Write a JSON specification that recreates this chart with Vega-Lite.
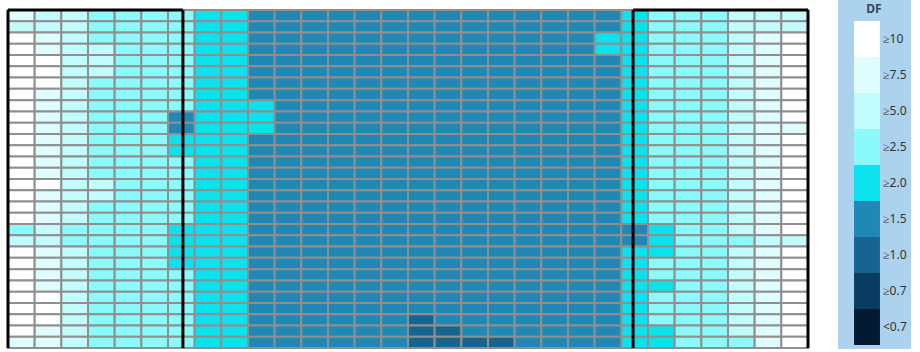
{
"$schema":"https://vega.github.io/schema/vega-lite/v6.json",
"width":800,"height":338,
"autosize":{"type":"none"},
"padding":{"left":8,"top":10,"right":112,"bottom":4},
"background":"white",
"config":{"view":{"stroke":null}},
"layer":[
{"data":{"values":[
{"c":0,"r":0,"DF":"≥7.5"},{"c":1,"r":0,"DF":"≥5.0"},{"c":2,"r":0,"DF":"≥5.0"},{"c":3,"r":0,"DF":"≥2.5"},{"c":4,"r":0,"DF":"≥2.5"},{"c":5,"r":0,"DF":"≥2.5"},{"c":6,"r":0,"DF":"≥2.5"},{"c":7,"r":0,"DF":"≥2.0"},{"c":8,"r":0,"DF":"≥2.0"},{"c":9,"r":0,"DF":"≥1.5"},{"c":10,"r":0,"DF":"≥1.5"},{"c":11,"r":0,"DF":"≥1.5"},{"c":12,"r":0,"DF":"≥1.5"},{"c":13,"r":0,"DF":"≥1.5"},{"c":14,"r":0,"DF":"≥1.5"},{"c":15,"r":0,"DF":"≥1.5"},{"c":16,"r":0,"DF":"≥1.5"},{"c":17,"r":0,"DF":"≥1.5"},{"c":18,"r":0,"DF":"≥1.5"},{"c":19,"r":0,"DF":"≥1.5"},{"c":20,"r":0,"DF":"≥1.5"},{"c":21,"r":0,"DF":"≥1.5"},{"c":22,"r":0,"DF":"≥1.5"},{"c":23,"r":0,"DF":"≥2.0"},{"c":24,"r":0,"DF":"≥2.5"},{"c":25,"r":0,"DF":"≥2.5"},{"c":26,"r":0,"DF":"≥2.5"},{"c":27,"r":0,"DF":"≥5.0"},{"c":28,"r":0,"DF":"≥5.0"},{"c":29,"r":0,"DF":"≥5.0"},
{"c":0,"r":1,"DF":"≥5.0"},{"c":1,"r":1,"DF":"≥5.0"},{"c":2,"r":1,"DF":"≥5.0"},{"c":3,"r":1,"DF":"≥2.5"},{"c":4,"r":1,"DF":"≥2.5"},{"c":5,"r":1,"DF":"≥2.5"},{"c":6,"r":1,"DF":"≥2.5"},{"c":7,"r":1,"DF":"≥2.0"},{"c":8,"r":1,"DF":"≥2.0"},{"c":9,"r":1,"DF":"≥1.5"},{"c":10,"r":1,"DF":"≥1.5"},{"c":11,"r":1,"DF":"≥1.5"},{"c":12,"r":1,"DF":"≥1.5"},{"c":13,"r":1,"DF":"≥1.5"},{"c":14,"r":1,"DF":"≥1.5"},{"c":15,"r":1,"DF":"≥1.5"},{"c":16,"r":1,"DF":"≥1.5"},{"c":17,"r":1,"DF":"≥1.5"},{"c":18,"r":1,"DF":"≥1.5"},{"c":19,"r":1,"DF":"≥1.5"},{"c":20,"r":1,"DF":"≥1.5"},{"c":21,"r":1,"DF":"≥1.5"},{"c":22,"r":1,"DF":"≥1.5"},{"c":23,"r":1,"DF":"≥2.0"},{"c":24,"r":1,"DF":"≥2.5"},{"c":25,"r":1,"DF":"≥2.5"},{"c":26,"r":1,"DF":"≥2.5"},{"c":27,"r":1,"DF":"≥5.0"},{"c":28,"r":1,"DF":"≥5.0"},{"c":29,"r":1,"DF":"≥5.0"},
{"c":0,"r":2,"DF":"≥10"},{"c":1,"r":2,"DF":"≥7.5"},{"c":2,"r":2,"DF":"≥5.0"},{"c":3,"r":2,"DF":"≥2.5"},{"c":4,"r":2,"DF":"≥2.5"},{"c":5,"r":2,"DF":"≥2.5"},{"c":6,"r":2,"DF":"≥2.5"},{"c":7,"r":2,"DF":"≥2.0"},{"c":8,"r":2,"DF":"≥2.0"},{"c":9,"r":2,"DF":"≥1.5"},{"c":10,"r":2,"DF":"≥1.5"},{"c":11,"r":2,"DF":"≥1.5"},{"c":12,"r":2,"DF":"≥1.5"},{"c":13,"r":2,"DF":"≥1.5"},{"c":14,"r":2,"DF":"≥1.5"},{"c":15,"r":2,"DF":"≥1.5"},{"c":16,"r":2,"DF":"≥1.5"},{"c":17,"r":2,"DF":"≥1.5"},{"c":18,"r":2,"DF":"≥1.5"},{"c":19,"r":2,"DF":"≥1.5"},{"c":20,"r":2,"DF":"≥1.5"},{"c":21,"r":2,"DF":"≥1.5"},{"c":22,"r":2,"DF":"≥2.0"},{"c":23,"r":2,"DF":"≥2.0"},{"c":24,"r":2,"DF":"≥2.5"},{"c":25,"r":2,"DF":"≥2.5"},{"c":26,"r":2,"DF":"≥2.5"},{"c":27,"r":2,"DF":"≥5.0"},{"c":28,"r":2,"DF":"≥7.5"},{"c":29,"r":2,"DF":"≥10"},
{"c":0,"r":3,"DF":"≥10"},{"c":1,"r":3,"DF":"≥7.5"},{"c":2,"r":3,"DF":"≥5.0"},{"c":3,"r":3,"DF":"≥5.0"},{"c":4,"r":3,"DF":"≥2.5"},{"c":5,"r":3,"DF":"≥2.5"},{"c":6,"r":3,"DF":"≥2.5"},{"c":7,"r":3,"DF":"≥2.0"},{"c":8,"r":3,"DF":"≥2.0"},{"c":9,"r":3,"DF":"≥1.5"},{"c":10,"r":3,"DF":"≥1.5"},{"c":11,"r":3,"DF":"≥1.5"},{"c":12,"r":3,"DF":"≥1.5"},{"c":13,"r":3,"DF":"≥1.5"},{"c":14,"r":3,"DF":"≥1.5"},{"c":15,"r":3,"DF":"≥1.5"},{"c":16,"r":3,"DF":"≥1.5"},{"c":17,"r":3,"DF":"≥1.5"},{"c":18,"r":3,"DF":"≥1.5"},{"c":19,"r":3,"DF":"≥1.5"},{"c":20,"r":3,"DF":"≥1.5"},{"c":21,"r":3,"DF":"≥1.5"},{"c":22,"r":3,"DF":"≥2.0"},{"c":23,"r":3,"DF":"≥2.0"},{"c":24,"r":3,"DF":"≥2.5"},{"c":25,"r":3,"DF":"≥2.5"},{"c":26,"r":3,"DF":"≥2.5"},{"c":27,"r":3,"DF":"≥5.0"},{"c":28,"r":3,"DF":"≥7.5"},{"c":29,"r":3,"DF":"≥10"},
{"c":0,"r":4,"DF":"≥10"},{"c":1,"r":4,"DF":"≥10"},{"c":2,"r":4,"DF":"≥5.0"},{"c":3,"r":4,"DF":"≥5.0"},{"c":4,"r":4,"DF":"≥2.5"},{"c":5,"r":4,"DF":"≥2.5"},{"c":6,"r":4,"DF":"≥2.5"},{"c":7,"r":4,"DF":"≥2.0"},{"c":8,"r":4,"DF":"≥2.0"},{"c":9,"r":4,"DF":"≥1.5"},{"c":10,"r":4,"DF":"≥1.5"},{"c":11,"r":4,"DF":"≥1.5"},{"c":12,"r":4,"DF":"≥1.5"},{"c":13,"r":4,"DF":"≥1.5"},{"c":14,"r":4,"DF":"≥1.5"},{"c":15,"r":4,"DF":"≥1.5"},{"c":16,"r":4,"DF":"≥1.5"},{"c":17,"r":4,"DF":"≥1.5"},{"c":18,"r":4,"DF":"≥1.5"},{"c":19,"r":4,"DF":"≥1.5"},{"c":20,"r":4,"DF":"≥1.5"},{"c":21,"r":4,"DF":"≥1.5"},{"c":22,"r":4,"DF":"≥1.5"},{"c":23,"r":4,"DF":"≥2.0"},{"c":24,"r":4,"DF":"≥2.5"},{"c":25,"r":4,"DF":"≥2.5"},{"c":26,"r":4,"DF":"≥2.5"},{"c":27,"r":4,"DF":"≥5.0"},{"c":28,"r":4,"DF":"≥7.5"},{"c":29,"r":4,"DF":"≥10"},
{"c":0,"r":5,"DF":"≥10"},{"c":1,"r":5,"DF":"≥10"},{"c":2,"r":5,"DF":"≥5.0"},{"c":3,"r":5,"DF":"≥5.0"},{"c":4,"r":5,"DF":"≥2.5"},{"c":5,"r":5,"DF":"≥2.5"},{"c":6,"r":5,"DF":"≥2.5"},{"c":7,"r":5,"DF":"≥2.0"},{"c":8,"r":5,"DF":"≥2.0"},{"c":9,"r":5,"DF":"≥1.5"},{"c":10,"r":5,"DF":"≥1.5"},{"c":11,"r":5,"DF":"≥1.5"},{"c":12,"r":5,"DF":"≥1.5"},{"c":13,"r":5,"DF":"≥1.5"},{"c":14,"r":5,"DF":"≥1.5"},{"c":15,"r":5,"DF":"≥1.5"},{"c":16,"r":5,"DF":"≥1.5"},{"c":17,"r":5,"DF":"≥1.5"},{"c":18,"r":5,"DF":"≥1.5"},{"c":19,"r":5,"DF":"≥1.5"},{"c":20,"r":5,"DF":"≥1.5"},{"c":21,"r":5,"DF":"≥1.5"},{"c":22,"r":5,"DF":"≥1.5"},{"c":23,"r":5,"DF":"≥2.0"},{"c":24,"r":5,"DF":"≥2.5"},{"c":25,"r":5,"DF":"≥2.5"},{"c":26,"r":5,"DF":"≥2.5"},{"c":27,"r":5,"DF":"≥5.0"},{"c":28,"r":5,"DF":"≥7.5"},{"c":29,"r":5,"DF":"≥10"},
{"c":0,"r":6,"DF":"≥10"},{"c":1,"r":6,"DF":"≥10"},{"c":2,"r":6,"DF":"≥5.0"},{"c":3,"r":6,"DF":"≥2.5"},{"c":4,"r":6,"DF":"≥2.5"},{"c":5,"r":6,"DF":"≥2.5"},{"c":6,"r":6,"DF":"≥2.5"},{"c":7,"r":6,"DF":"≥2.0"},{"c":8,"r":6,"DF":"≥2.0"},{"c":9,"r":6,"DF":"≥1.5"},{"c":10,"r":6,"DF":"≥1.5"},{"c":11,"r":6,"DF":"≥1.5"},{"c":12,"r":6,"DF":"≥1.5"},{"c":13,"r":6,"DF":"≥1.5"},{"c":14,"r":6,"DF":"≥1.5"},{"c":15,"r":6,"DF":"≥1.5"},{"c":16,"r":6,"DF":"≥1.5"},{"c":17,"r":6,"DF":"≥1.5"},{"c":18,"r":6,"DF":"≥1.5"},{"c":19,"r":6,"DF":"≥1.5"},{"c":20,"r":6,"DF":"≥1.5"},{"c":21,"r":6,"DF":"≥1.5"},{"c":22,"r":6,"DF":"≥1.5"},{"c":23,"r":6,"DF":"≥2.0"},{"c":24,"r":6,"DF":"≥2.5"},{"c":25,"r":6,"DF":"≥2.5"},{"c":26,"r":6,"DF":"≥2.5"},{"c":27,"r":6,"DF":"≥5.0"},{"c":28,"r":6,"DF":"≥7.5"},{"c":29,"r":6,"DF":"≥10"},
{"c":0,"r":7,"DF":"≥10"},{"c":1,"r":7,"DF":"≥7.5"},{"c":2,"r":7,"DF":"≥5.0"},{"c":3,"r":7,"DF":"≥2.5"},{"c":4,"r":7,"DF":"≥2.5"},{"c":5,"r":7,"DF":"≥2.5"},{"c":6,"r":7,"DF":"≥2.5"},{"c":7,"r":7,"DF":"≥2.0"},{"c":8,"r":7,"DF":"≥2.0"},{"c":9,"r":7,"DF":"≥1.5"},{"c":10,"r":7,"DF":"≥1.5"},{"c":11,"r":7,"DF":"≥1.5"},{"c":12,"r":7,"DF":"≥1.5"},{"c":13,"r":7,"DF":"≥1.5"},{"c":14,"r":7,"DF":"≥1.5"},{"c":15,"r":7,"DF":"≥1.5"},{"c":16,"r":7,"DF":"≥1.5"},{"c":17,"r":7,"DF":"≥1.5"},{"c":18,"r":7,"DF":"≥1.5"},{"c":19,"r":7,"DF":"≥1.5"},{"c":20,"r":7,"DF":"≥1.5"},{"c":21,"r":7,"DF":"≥1.5"},{"c":22,"r":7,"DF":"≥1.5"},{"c":23,"r":7,"DF":"≥2.0"},{"c":24,"r":7,"DF":"≥2.5"},{"c":25,"r":7,"DF":"≥2.5"},{"c":26,"r":7,"DF":"≥2.5"},{"c":27,"r":7,"DF":"≥5.0"},{"c":28,"r":7,"DF":"≥7.5"},{"c":29,"r":7,"DF":"≥10"},
{"c":0,"r":8,"DF":"≥10"},{"c":1,"r":8,"DF":"≥7.5"},{"c":2,"r":8,"DF":"≥5.0"},{"c":3,"r":8,"DF":"≥2.5"},{"c":4,"r":8,"DF":"≥2.5"},{"c":5,"r":8,"DF":"≥2.5"},{"c":6,"r":8,"DF":"≥2.5"},{"c":7,"r":8,"DF":"≥2.0"},{"c":8,"r":8,"DF":"≥2.0"},{"c":9,"r":8,"DF":"≥2.0"},{"c":10,"r":8,"DF":"≥1.5"},{"c":11,"r":8,"DF":"≥1.5"},{"c":12,"r":8,"DF":"≥1.5"},{"c":13,"r":8,"DF":"≥1.5"},{"c":14,"r":8,"DF":"≥1.5"},{"c":15,"r":8,"DF":"≥1.5"},{"c":16,"r":8,"DF":"≥1.5"},{"c":17,"r":8,"DF":"≥1.5"},{"c":18,"r":8,"DF":"≥1.5"},{"c":19,"r":8,"DF":"≥1.5"},{"c":20,"r":8,"DF":"≥1.5"},{"c":21,"r":8,"DF":"≥1.5"},{"c":22,"r":8,"DF":"≥1.5"},{"c":23,"r":8,"DF":"≥2.0"},{"c":24,"r":8,"DF":"≥2.5"},{"c":25,"r":8,"DF":"≥2.5"},{"c":26,"r":8,"DF":"≥2.5"},{"c":27,"r":8,"DF":"≥5.0"},{"c":28,"r":8,"DF":"≥7.5"},{"c":29,"r":8,"DF":"≥10"},
{"c":0,"r":9,"DF":"≥10"},{"c":1,"r":9,"DF":"≥7.5"},{"c":2,"r":9,"DF":"≥5.0"},{"c":3,"r":9,"DF":"≥2.5"},{"c":4,"r":9,"DF":"≥2.5"},{"c":5,"r":9,"DF":"≥2.5"},{"c":6,"r":9,"DF":"≥1.5"},{"c":7,"r":9,"DF":"≥2.0"},{"c":8,"r":9,"DF":"≥2.0"},{"c":9,"r":9,"DF":"≥2.0"},{"c":10,"r":9,"DF":"≥1.5"},{"c":11,"r":9,"DF":"≥1.5"},{"c":12,"r":9,"DF":"≥1.5"},{"c":13,"r":9,"DF":"≥1.5"},{"c":14,"r":9,"DF":"≥1.5"},{"c":15,"r":9,"DF":"≥1.5"},{"c":16,"r":9,"DF":"≥1.5"},{"c":17,"r":9,"DF":"≥1.5"},{"c":18,"r":9,"DF":"≥1.5"},{"c":19,"r":9,"DF":"≥1.5"},{"c":20,"r":9,"DF":"≥1.5"},{"c":21,"r":9,"DF":"≥1.5"},{"c":22,"r":9,"DF":"≥1.5"},{"c":23,"r":9,"DF":"≥2.0"},{"c":24,"r":9,"DF":"≥2.5"},{"c":25,"r":9,"DF":"≥2.5"},{"c":26,"r":9,"DF":"≥2.5"},{"c":27,"r":9,"DF":"≥5.0"},{"c":28,"r":9,"DF":"≥7.5"},{"c":29,"r":9,"DF":"≥10"},
{"c":0,"r":10,"DF":"≥10"},{"c":1,"r":10,"DF":"≥7.5"},{"c":2,"r":10,"DF":"≥5.0"},{"c":3,"r":10,"DF":"≥2.5"},{"c":4,"r":10,"DF":"≥2.5"},{"c":5,"r":10,"DF":"≥2.5"},{"c":6,"r":10,"DF":"≥1.5"},{"c":7,"r":10,"DF":"≥2.0"},{"c":8,"r":10,"DF":"≥2.0"},{"c":9,"r":10,"DF":"≥2.0"},{"c":10,"r":10,"DF":"≥1.5"},{"c":11,"r":10,"DF":"≥1.5"},{"c":12,"r":10,"DF":"≥1.5"},{"c":13,"r":10,"DF":"≥1.5"},{"c":14,"r":10,"DF":"≥1.5"},{"c":15,"r":10,"DF":"≥1.5"},{"c":16,"r":10,"DF":"≥1.5"},{"c":17,"r":10,"DF":"≥1.5"},{"c":18,"r":10,"DF":"≥1.5"},{"c":19,"r":10,"DF":"≥1.5"},{"c":20,"r":10,"DF":"≥1.5"},{"c":21,"r":10,"DF":"≥1.5"},{"c":22,"r":10,"DF":"≥1.5"},{"c":23,"r":10,"DF":"≥2.0"},{"c":24,"r":10,"DF":"≥2.5"},{"c":25,"r":10,"DF":"≥2.5"},{"c":26,"r":10,"DF":"≥2.5"},{"c":27,"r":10,"DF":"≥5.0"},{"c":28,"r":10,"DF":"≥7.5"},{"c":29,"r":10,"DF":"≥7.5"},
{"c":0,"r":11,"DF":"≥10"},{"c":1,"r":11,"DF":"≥7.5"},{"c":2,"r":11,"DF":"≥5.0"},{"c":3,"r":11,"DF":"≥2.5"},{"c":4,"r":11,"DF":"≥2.5"},{"c":5,"r":11,"DF":"≥2.5"},{"c":6,"r":11,"DF":"≥2.0"},{"c":7,"r":11,"DF":"≥2.0"},{"c":8,"r":11,"DF":"≥2.0"},{"c":9,"r":11,"DF":"≥1.5"},{"c":10,"r":11,"DF":"≥1.5"},{"c":11,"r":11,"DF":"≥1.5"},{"c":12,"r":11,"DF":"≥1.5"},{"c":13,"r":11,"DF":"≥1.5"},{"c":14,"r":11,"DF":"≥1.5"},{"c":15,"r":11,"DF":"≥1.5"},{"c":16,"r":11,"DF":"≥1.5"},{"c":17,"r":11,"DF":"≥1.5"},{"c":18,"r":11,"DF":"≥1.5"},{"c":19,"r":11,"DF":"≥1.5"},{"c":20,"r":11,"DF":"≥1.5"},{"c":21,"r":11,"DF":"≥1.5"},{"c":22,"r":11,"DF":"≥1.5"},{"c":23,"r":11,"DF":"≥2.0"},{"c":24,"r":11,"DF":"≥2.5"},{"c":25,"r":11,"DF":"≥2.5"},{"c":26,"r":11,"DF":"≥2.5"},{"c":27,"r":11,"DF":"≥5.0"},{"c":28,"r":11,"DF":"≥7.5"},{"c":29,"r":11,"DF":"≥10"},
{"c":0,"r":12,"DF":"≥10"},{"c":1,"r":12,"DF":"≥7.5"},{"c":2,"r":12,"DF":"≥5.0"},{"c":3,"r":12,"DF":"≥2.5"},{"c":4,"r":12,"DF":"≥2.5"},{"c":5,"r":12,"DF":"≥2.5"},{"c":6,"r":12,"DF":"≥2.0"},{"c":7,"r":12,"DF":"≥2.0"},{"c":8,"r":12,"DF":"≥2.0"},{"c":9,"r":12,"DF":"≥1.5"},{"c":10,"r":12,"DF":"≥1.5"},{"c":11,"r":12,"DF":"≥1.5"},{"c":12,"r":12,"DF":"≥1.5"},{"c":13,"r":12,"DF":"≥1.5"},{"c":14,"r":12,"DF":"≥1.5"},{"c":15,"r":12,"DF":"≥1.5"},{"c":16,"r":12,"DF":"≥1.5"},{"c":17,"r":12,"DF":"≥1.5"},{"c":18,"r":12,"DF":"≥1.5"},{"c":19,"r":12,"DF":"≥1.5"},{"c":20,"r":12,"DF":"≥1.5"},{"c":21,"r":12,"DF":"≥1.5"},{"c":22,"r":12,"DF":"≥1.5"},{"c":23,"r":12,"DF":"≥2.0"},{"c":24,"r":12,"DF":"≥2.5"},{"c":25,"r":12,"DF":"≥2.5"},{"c":26,"r":12,"DF":"≥2.5"},{"c":27,"r":12,"DF":"≥5.0"},{"c":28,"r":12,"DF":"≥7.5"},{"c":29,"r":12,"DF":"≥10"},
{"c":0,"r":13,"DF":"≥10"},{"c":1,"r":13,"DF":"≥7.5"},{"c":2,"r":13,"DF":"≥5.0"},{"c":3,"r":13,"DF":"≥2.5"},{"c":4,"r":13,"DF":"≥2.5"},{"c":5,"r":13,"DF":"≥2.5"},{"c":6,"r":13,"DF":"≥2.5"},{"c":7,"r":13,"DF":"≥2.0"},{"c":8,"r":13,"DF":"≥2.0"},{"c":9,"r":13,"DF":"≥1.5"},{"c":10,"r":13,"DF":"≥1.5"},{"c":11,"r":13,"DF":"≥1.5"},{"c":12,"r":13,"DF":"≥1.5"},{"c":13,"r":13,"DF":"≥1.5"},{"c":14,"r":13,"DF":"≥1.5"},{"c":15,"r":13,"DF":"≥1.5"},{"c":16,"r":13,"DF":"≥1.5"},{"c":17,"r":13,"DF":"≥1.5"},{"c":18,"r":13,"DF":"≥1.5"},{"c":19,"r":13,"DF":"≥1.5"},{"c":20,"r":13,"DF":"≥1.5"},{"c":21,"r":13,"DF":"≥1.5"},{"c":22,"r":13,"DF":"≥1.5"},{"c":23,"r":13,"DF":"≥2.0"},{"c":24,"r":13,"DF":"≥2.5"},{"c":25,"r":13,"DF":"≥2.5"},{"c":26,"r":13,"DF":"≥2.5"},{"c":27,"r":13,"DF":"≥5.0"},{"c":28,"r":13,"DF":"≥7.5"},{"c":29,"r":13,"DF":"≥10"},
{"c":0,"r":14,"DF":"≥10"},{"c":1,"r":14,"DF":"≥7.5"},{"c":2,"r":14,"DF":"≥5.0"},{"c":3,"r":14,"DF":"≥2.5"},{"c":4,"r":14,"DF":"≥2.5"},{"c":5,"r":14,"DF":"≥2.5"},{"c":6,"r":14,"DF":"≥2.5"},{"c":7,"r":14,"DF":"≥2.0"},{"c":8,"r":14,"DF":"≥2.0"},{"c":9,"r":14,"DF":"≥1.5"},{"c":10,"r":14,"DF":"≥1.5"},{"c":11,"r":14,"DF":"≥1.5"},{"c":12,"r":14,"DF":"≥1.5"},{"c":13,"r":14,"DF":"≥1.5"},{"c":14,"r":14,"DF":"≥1.5"},{"c":15,"r":14,"DF":"≥1.5"},{"c":16,"r":14,"DF":"≥1.5"},{"c":17,"r":14,"DF":"≥1.5"},{"c":18,"r":14,"DF":"≥1.5"},{"c":19,"r":14,"DF":"≥1.5"},{"c":20,"r":14,"DF":"≥1.5"},{"c":21,"r":14,"DF":"≥1.5"},{"c":22,"r":14,"DF":"≥1.5"},{"c":23,"r":14,"DF":"≥2.0"},{"c":24,"r":14,"DF":"≥2.5"},{"c":25,"r":14,"DF":"≥2.5"},{"c":26,"r":14,"DF":"≥2.5"},{"c":27,"r":14,"DF":"≥5.0"},{"c":28,"r":14,"DF":"≥7.5"},{"c":29,"r":14,"DF":"≥10"},
{"c":0,"r":15,"DF":"≥10"},{"c":1,"r":15,"DF":"≥10"},{"c":2,"r":15,"DF":"≥5.0"},{"c":3,"r":15,"DF":"≥5.0"},{"c":4,"r":15,"DF":"≥2.5"},{"c":5,"r":15,"DF":"≥2.5"},{"c":6,"r":15,"DF":"≥2.5"},{"c":7,"r":15,"DF":"≥2.0"},{"c":8,"r":15,"DF":"≥2.0"},{"c":9,"r":15,"DF":"≥1.5"},{"c":10,"r":15,"DF":"≥1.5"},{"c":11,"r":15,"DF":"≥1.5"},{"c":12,"r":15,"DF":"≥1.5"},{"c":13,"r":15,"DF":"≥1.5"},{"c":14,"r":15,"DF":"≥1.5"},{"c":15,"r":15,"DF":"≥1.5"},{"c":16,"r":15,"DF":"≥1.5"},{"c":17,"r":15,"DF":"≥1.5"},{"c":18,"r":15,"DF":"≥1.5"},{"c":19,"r":15,"DF":"≥1.5"},{"c":20,"r":15,"DF":"≥1.5"},{"c":21,"r":15,"DF":"≥1.5"},{"c":22,"r":15,"DF":"≥1.5"},{"c":23,"r":15,"DF":"≥2.0"},{"c":24,"r":15,"DF":"≥2.5"},{"c":25,"r":15,"DF":"≥2.5"},{"c":26,"r":15,"DF":"≥2.5"},{"c":27,"r":15,"DF":"≥5.0"},{"c":28,"r":15,"DF":"≥7.5"},{"c":29,"r":15,"DF":"≥10"},
{"c":0,"r":16,"DF":"≥10"},{"c":1,"r":16,"DF":"≥7.5"},{"c":2,"r":16,"DF":"≥5.0"},{"c":3,"r":16,"DF":"≥5.0"},{"c":4,"r":16,"DF":"≥2.5"},{"c":5,"r":16,"DF":"≥2.5"},{"c":6,"r":16,"DF":"≥2.5"},{"c":7,"r":16,"DF":"≥2.0"},{"c":8,"r":16,"DF":"≥2.0"},{"c":9,"r":16,"DF":"≥1.5"},{"c":10,"r":16,"DF":"≥1.5"},{"c":11,"r":16,"DF":"≥1.5"},{"c":12,"r":16,"DF":"≥1.5"},{"c":13,"r":16,"DF":"≥1.5"},{"c":14,"r":16,"DF":"≥1.5"},{"c":15,"r":16,"DF":"≥1.5"},{"c":16,"r":16,"DF":"≥1.5"},{"c":17,"r":16,"DF":"≥1.5"},{"c":18,"r":16,"DF":"≥1.5"},{"c":19,"r":16,"DF":"≥1.5"},{"c":20,"r":16,"DF":"≥1.5"},{"c":21,"r":16,"DF":"≥1.5"},{"c":22,"r":16,"DF":"≥1.5"},{"c":23,"r":16,"DF":"≥2.0"},{"c":24,"r":16,"DF":"≥2.5"},{"c":25,"r":16,"DF":"≥2.5"},{"c":26,"r":16,"DF":"≥2.5"},{"c":27,"r":16,"DF":"≥5.0"},{"c":28,"r":16,"DF":"≥7.5"},{"c":29,"r":16,"DF":"≥10"},
{"c":0,"r":17,"DF":"≥10"},{"c":1,"r":17,"DF":"≥7.5"},{"c":2,"r":17,"DF":"≥5.0"},{"c":3,"r":17,"DF":"≥2.5"},{"c":4,"r":17,"DF":"≥2.5"},{"c":5,"r":17,"DF":"≥2.5"},{"c":6,"r":17,"DF":"≥2.5"},{"c":7,"r":17,"DF":"≥2.0"},{"c":8,"r":17,"DF":"≥2.0"},{"c":9,"r":17,"DF":"≥1.5"},{"c":10,"r":17,"DF":"≥1.5"},{"c":11,"r":17,"DF":"≥1.5"},{"c":12,"r":17,"DF":"≥1.5"},{"c":13,"r":17,"DF":"≥1.5"},{"c":14,"r":17,"DF":"≥1.5"},{"c":15,"r":17,"DF":"≥1.5"},{"c":16,"r":17,"DF":"≥1.5"},{"c":17,"r":17,"DF":"≥1.5"},{"c":18,"r":17,"DF":"≥1.5"},{"c":19,"r":17,"DF":"≥1.5"},{"c":20,"r":17,"DF":"≥1.5"},{"c":21,"r":17,"DF":"≥1.5"},{"c":22,"r":17,"DF":"≥1.5"},{"c":23,"r":17,"DF":"≥2.0"},{"c":24,"r":17,"DF":"≥2.5"},{"c":25,"r":17,"DF":"≥2.5"},{"c":26,"r":17,"DF":"≥2.5"},{"c":27,"r":17,"DF":"≥5.0"},{"c":28,"r":17,"DF":"≥7.5"},{"c":29,"r":17,"DF":"≥10"},
{"c":0,"r":18,"DF":"≥10"},{"c":1,"r":18,"DF":"≥7.5"},{"c":2,"r":18,"DF":"≥5.0"},{"c":3,"r":18,"DF":"≥2.5"},{"c":4,"r":18,"DF":"≥2.5"},{"c":5,"r":18,"DF":"≥2.5"},{"c":6,"r":18,"DF":"≥2.5"},{"c":7,"r":18,"DF":"≥2.0"},{"c":8,"r":18,"DF":"≥2.0"},{"c":9,"r":18,"DF":"≥1.5"},{"c":10,"r":18,"DF":"≥1.5"},{"c":11,"r":18,"DF":"≥1.5"},{"c":12,"r":18,"DF":"≥1.5"},{"c":13,"r":18,"DF":"≥1.5"},{"c":14,"r":18,"DF":"≥1.5"},{"c":15,"r":18,"DF":"≥1.5"},{"c":16,"r":18,"DF":"≥1.5"},{"c":17,"r":18,"DF":"≥1.5"},{"c":18,"r":18,"DF":"≥1.5"},{"c":19,"r":18,"DF":"≥1.5"},{"c":20,"r":18,"DF":"≥1.5"},{"c":21,"r":18,"DF":"≥1.5"},{"c":22,"r":18,"DF":"≥1.5"},{"c":23,"r":18,"DF":"≥2.0"},{"c":24,"r":18,"DF":"≥2.5"},{"c":25,"r":18,"DF":"≥2.5"},{"c":26,"r":18,"DF":"≥2.5"},{"c":27,"r":18,"DF":"≥5.0"},{"c":28,"r":18,"DF":"≥7.5"},{"c":29,"r":18,"DF":"≥10"},
{"c":0,"r":19,"DF":"≥2.5"},{"c":1,"r":19,"DF":"≥5.0"},{"c":2,"r":19,"DF":"≥2.5"},{"c":3,"r":19,"DF":"≥2.5"},{"c":4,"r":19,"DF":"≥2.5"},{"c":5,"r":19,"DF":"≥2.5"},{"c":6,"r":19,"DF":"≥2.0"},{"c":7,"r":19,"DF":"≥2.0"},{"c":8,"r":19,"DF":"≥2.0"},{"c":9,"r":19,"DF":"≥1.5"},{"c":10,"r":19,"DF":"≥1.5"},{"c":11,"r":19,"DF":"≥1.5"},{"c":12,"r":19,"DF":"≥1.5"},{"c":13,"r":19,"DF":"≥1.5"},{"c":14,"r":19,"DF":"≥1.5"},{"c":15,"r":19,"DF":"≥1.5"},{"c":16,"r":19,"DF":"≥1.5"},{"c":17,"r":19,"DF":"≥1.5"},{"c":18,"r":19,"DF":"≥1.5"},{"c":19,"r":19,"DF":"≥1.5"},{"c":20,"r":19,"DF":"≥1.5"},{"c":21,"r":19,"DF":"≥1.5"},{"c":22,"r":19,"DF":"≥1.5"},{"c":23,"r":19,"DF":"≥1.5"},{"c":24,"r":19,"DF":"≥2.0"},{"c":25,"r":19,"DF":"≥2.5"},{"c":26,"r":19,"DF":"≥2.5"},{"c":27,"r":19,"DF":"≥5.0"},{"c":28,"r":19,"DF":"≥7.5"},{"c":29,"r":19,"DF":"≥10"},
{"c":0,"r":20,"DF":"≥5.0"},{"c":1,"r":20,"DF":"≥5.0"},{"c":2,"r":20,"DF":"≥2.5"},{"c":3,"r":20,"DF":"≥2.5"},{"c":4,"r":20,"DF":"≥2.5"},{"c":5,"r":20,"DF":"≥2.5"},{"c":6,"r":20,"DF":"≥2.0"},{"c":7,"r":20,"DF":"≥2.0"},{"c":8,"r":20,"DF":"≥2.0"},{"c":9,"r":20,"DF":"≥1.5"},{"c":10,"r":20,"DF":"≥1.5"},{"c":11,"r":20,"DF":"≥1.5"},{"c":12,"r":20,"DF":"≥1.5"},{"c":13,"r":20,"DF":"≥1.5"},{"c":14,"r":20,"DF":"≥1.5"},{"c":15,"r":20,"DF":"≥1.5"},{"c":16,"r":20,"DF":"≥1.5"},{"c":17,"r":20,"DF":"≥1.5"},{"c":18,"r":20,"DF":"≥1.5"},{"c":19,"r":20,"DF":"≥1.5"},{"c":20,"r":20,"DF":"≥1.5"},{"c":21,"r":20,"DF":"≥1.5"},{"c":22,"r":20,"DF":"≥1.5"},{"c":23,"r":20,"DF":"≥1.5"},{"c":24,"r":20,"DF":"≥2.0"},{"c":25,"r":20,"DF":"≥2.5"},{"c":26,"r":20,"DF":"≥2.5"},{"c":27,"r":20,"DF":"≥2.5"},{"c":28,"r":20,"DF":"≥5.0"},{"c":29,"r":20,"DF":"≥5.0"},
{"c":0,"r":21,"DF":"≥10"},{"c":1,"r":21,"DF":"≥7.5"},{"c":2,"r":21,"DF":"≥5.0"},{"c":3,"r":21,"DF":"≥2.5"},{"c":4,"r":21,"DF":"≥2.5"},{"c":5,"r":21,"DF":"≥2.5"},{"c":6,"r":21,"DF":"≥2.0"},{"c":7,"r":21,"DF":"≥2.0"},{"c":8,"r":21,"DF":"≥2.0"},{"c":9,"r":21,"DF":"≥1.5"},{"c":10,"r":21,"DF":"≥1.5"},{"c":11,"r":21,"DF":"≥1.5"},{"c":12,"r":21,"DF":"≥1.5"},{"c":13,"r":21,"DF":"≥1.5"},{"c":14,"r":21,"DF":"≥1.5"},{"c":15,"r":21,"DF":"≥1.5"},{"c":16,"r":21,"DF":"≥1.5"},{"c":17,"r":21,"DF":"≥1.5"},{"c":18,"r":21,"DF":"≥1.5"},{"c":19,"r":21,"DF":"≥1.5"},{"c":20,"r":21,"DF":"≥1.5"},{"c":21,"r":21,"DF":"≥1.5"},{"c":22,"r":21,"DF":"≥1.5"},{"c":23,"r":21,"DF":"≥2.0"},{"c":24,"r":21,"DF":"≥2.0"},{"c":25,"r":21,"DF":"≥2.5"},{"c":26,"r":21,"DF":"≥2.5"},{"c":27,"r":21,"DF":"≥5.0"},{"c":28,"r":21,"DF":"≥7.5"},{"c":29,"r":21,"DF":"≥10"},
{"c":0,"r":22,"DF":"≥10"},{"c":1,"r":22,"DF":"≥7.5"},{"c":2,"r":22,"DF":"≥5.0"},{"c":3,"r":22,"DF":"≥2.5"},{"c":4,"r":22,"DF":"≥2.5"},{"c":5,"r":22,"DF":"≥2.5"},{"c":6,"r":22,"DF":"≥2.0"},{"c":7,"r":22,"DF":"≥2.0"},{"c":8,"r":22,"DF":"≥2.0"},{"c":9,"r":22,"DF":"≥1.5"},{"c":10,"r":22,"DF":"≥1.5"},{"c":11,"r":22,"DF":"≥1.5"},{"c":12,"r":22,"DF":"≥1.5"},{"c":13,"r":22,"DF":"≥1.5"},{"c":14,"r":22,"DF":"≥1.5"},{"c":15,"r":22,"DF":"≥1.5"},{"c":16,"r":22,"DF":"≥1.5"},{"c":17,"r":22,"DF":"≥1.5"},{"c":18,"r":22,"DF":"≥1.5"},{"c":19,"r":22,"DF":"≥1.5"},{"c":20,"r":22,"DF":"≥1.5"},{"c":21,"r":22,"DF":"≥1.5"},{"c":22,"r":22,"DF":"≥1.5"},{"c":23,"r":22,"DF":"≥2.0"},{"c":24,"r":22,"DF":"≥2.5"},{"c":25,"r":22,"DF":"≥2.5"},{"c":26,"r":22,"DF":"≥2.5"},{"c":27,"r":22,"DF":"≥5.0"},{"c":28,"r":22,"DF":"≥7.5"},{"c":29,"r":22,"DF":"≥10"},
{"c":0,"r":23,"DF":"≥10"},{"c":1,"r":23,"DF":"≥7.5"},{"c":2,"r":23,"DF":"≥5.0"},{"c":3,"r":23,"DF":"≥2.5"},{"c":4,"r":23,"DF":"≥2.5"},{"c":5,"r":23,"DF":"≥2.5"},{"c":6,"r":23,"DF":"≥2.5"},{"c":7,"r":23,"DF":"≥2.0"},{"c":8,"r":23,"DF":"≥2.0"},{"c":9,"r":23,"DF":"≥1.5"},{"c":10,"r":23,"DF":"≥1.5"},{"c":11,"r":23,"DF":"≥1.5"},{"c":12,"r":23,"DF":"≥1.5"},{"c":13,"r":23,"DF":"≥1.5"},{"c":14,"r":23,"DF":"≥1.5"},{"c":15,"r":23,"DF":"≥1.5"},{"c":16,"r":23,"DF":"≥1.5"},{"c":17,"r":23,"DF":"≥1.5"},{"c":18,"r":23,"DF":"≥1.5"},{"c":19,"r":23,"DF":"≥1.5"},{"c":20,"r":23,"DF":"≥1.5"},{"c":21,"r":23,"DF":"≥1.5"},{"c":22,"r":23,"DF":"≥1.5"},{"c":23,"r":23,"DF":"≥2.0"},{"c":24,"r":23,"DF":"≥2.5"},{"c":25,"r":23,"DF":"≥2.5"},{"c":26,"r":23,"DF":"≥2.5"},{"c":27,"r":23,"DF":"≥5.0"},{"c":28,"r":23,"DF":"≥7.5"},{"c":29,"r":23,"DF":"≥10"},
{"c":0,"r":24,"DF":"≥10"},{"c":1,"r":24,"DF":"≥7.5"},{"c":2,"r":24,"DF":"≥5.0"},{"c":3,"r":24,"DF":"≥2.5"},{"c":4,"r":24,"DF":"≥2.5"},{"c":5,"r":24,"DF":"≥2.5"},{"c":6,"r":24,"DF":"≥2.5"},{"c":7,"r":24,"DF":"≥2.0"},{"c":8,"r":24,"DF":"≥2.0"},{"c":9,"r":24,"DF":"≥1.5"},{"c":10,"r":24,"DF":"≥1.5"},{"c":11,"r":24,"DF":"≥1.5"},{"c":12,"r":24,"DF":"≥1.5"},{"c":13,"r":24,"DF":"≥1.5"},{"c":14,"r":24,"DF":"≥1.5"},{"c":15,"r":24,"DF":"≥1.5"},{"c":16,"r":24,"DF":"≥1.5"},{"c":17,"r":24,"DF":"≥1.5"},{"c":18,"r":24,"DF":"≥1.5"},{"c":19,"r":24,"DF":"≥1.5"},{"c":20,"r":24,"DF":"≥1.5"},{"c":21,"r":24,"DF":"≥1.5"},{"c":22,"r":24,"DF":"≥1.5"},{"c":23,"r":24,"DF":"≥2.0"},{"c":24,"r":24,"DF":"≥2.0"},{"c":25,"r":24,"DF":"≥2.5"},{"c":26,"r":24,"DF":"≥2.5"},{"c":27,"r":24,"DF":"≥5.0"},{"c":28,"r":24,"DF":"≥7.5"},{"c":29,"r":24,"DF":"≥10"},
{"c":0,"r":25,"DF":"≥10"},{"c":1,"r":25,"DF":"≥10"},{"c":2,"r":25,"DF":"≥5.0"},{"c":3,"r":25,"DF":"≥2.5"},{"c":4,"r":25,"DF":"≥2.5"},{"c":5,"r":25,"DF":"≥2.5"},{"c":6,"r":25,"DF":"≥2.5"},{"c":7,"r":25,"DF":"≥2.0"},{"c":8,"r":25,"DF":"≥2.0"},{"c":9,"r":25,"DF":"≥1.5"},{"c":10,"r":25,"DF":"≥1.5"},{"c":11,"r":25,"DF":"≥1.5"},{"c":12,"r":25,"DF":"≥1.5"},{"c":13,"r":25,"DF":"≥1.5"},{"c":14,"r":25,"DF":"≥1.5"},{"c":15,"r":25,"DF":"≥1.5"},{"c":16,"r":25,"DF":"≥1.5"},{"c":17,"r":25,"DF":"≥1.5"},{"c":18,"r":25,"DF":"≥1.5"},{"c":19,"r":25,"DF":"≥1.5"},{"c":20,"r":25,"DF":"≥1.5"},{"c":21,"r":25,"DF":"≥1.5"},{"c":22,"r":25,"DF":"≥1.5"},{"c":23,"r":25,"DF":"≥2.0"},{"c":24,"r":25,"DF":"≥2.5"},{"c":25,"r":25,"DF":"≥2.5"},{"c":26,"r":25,"DF":"≥2.5"},{"c":27,"r":25,"DF":"≥5.0"},{"c":28,"r":25,"DF":"≥7.5"},{"c":29,"r":25,"DF":"≥10"},
{"c":0,"r":26,"DF":"≥10"},{"c":1,"r":26,"DF":"≥10"},{"c":2,"r":26,"DF":"≥5.0"},{"c":3,"r":26,"DF":"≥2.5"},{"c":4,"r":26,"DF":"≥2.5"},{"c":5,"r":26,"DF":"≥2.5"},{"c":6,"r":26,"DF":"≥2.5"},{"c":7,"r":26,"DF":"≥2.0"},{"c":8,"r":26,"DF":"≥2.0"},{"c":9,"r":26,"DF":"≥1.5"},{"c":10,"r":26,"DF":"≥1.5"},{"c":11,"r":26,"DF":"≥1.5"},{"c":12,"r":26,"DF":"≥1.5"},{"c":13,"r":26,"DF":"≥1.5"},{"c":14,"r":26,"DF":"≥1.5"},{"c":15,"r":26,"DF":"≥1.5"},{"c":16,"r":26,"DF":"≥1.5"},{"c":17,"r":26,"DF":"≥1.5"},{"c":18,"r":26,"DF":"≥1.5"},{"c":19,"r":26,"DF":"≥1.5"},{"c":20,"r":26,"DF":"≥1.5"},{"c":21,"r":26,"DF":"≥1.5"},{"c":22,"r":26,"DF":"≥1.5"},{"c":23,"r":26,"DF":"≥2.0"},{"c":24,"r":26,"DF":"≥2.5"},{"c":25,"r":26,"DF":"≥2.5"},{"c":26,"r":26,"DF":"≥2.5"},{"c":27,"r":26,"DF":"≥5.0"},{"c":28,"r":26,"DF":"≥7.5"},{"c":29,"r":26,"DF":"≥10"},
{"c":0,"r":27,"DF":"≥10"},{"c":1,"r":27,"DF":"≥10"},{"c":2,"r":27,"DF":"≥5.0"},{"c":3,"r":27,"DF":"≥2.5"},{"c":4,"r":27,"DF":"≥2.5"},{"c":5,"r":27,"DF":"≥2.5"},{"c":6,"r":27,"DF":"≥2.5"},{"c":7,"r":27,"DF":"≥2.0"},{"c":8,"r":27,"DF":"≥2.0"},{"c":9,"r":27,"DF":"≥1.5"},{"c":10,"r":27,"DF":"≥1.5"},{"c":11,"r":27,"DF":"≥1.5"},{"c":12,"r":27,"DF":"≥1.5"},{"c":13,"r":27,"DF":"≥1.5"},{"c":14,"r":27,"DF":"≥1.5"},{"c":15,"r":27,"DF":"≥1.0"},{"c":16,"r":27,"DF":"≥1.5"},{"c":17,"r":27,"DF":"≥1.5"},{"c":18,"r":27,"DF":"≥1.5"},{"c":19,"r":27,"DF":"≥1.5"},{"c":20,"r":27,"DF":"≥1.5"},{"c":21,"r":27,"DF":"≥1.5"},{"c":22,"r":27,"DF":"≥1.5"},{"c":23,"r":27,"DF":"≥2.0"},{"c":24,"r":27,"DF":"≥2.5"},{"c":25,"r":27,"DF":"≥2.5"},{"c":26,"r":27,"DF":"≥2.5"},{"c":27,"r":27,"DF":"≥5.0"},{"c":28,"r":27,"DF":"≥7.5"},{"c":29,"r":27,"DF":"≥10"},
{"c":0,"r":28,"DF":"≥10"},{"c":1,"r":28,"DF":"≥7.5"},{"c":2,"r":28,"DF":"≥5.0"},{"c":3,"r":28,"DF":"≥2.5"},{"c":4,"r":28,"DF":"≥2.5"},{"c":5,"r":28,"DF":"≥2.5"},{"c":6,"r":28,"DF":"≥2.5"},{"c":7,"r":28,"DF":"≥2.0"},{"c":8,"r":28,"DF":"≥2.0"},{"c":9,"r":28,"DF":"≥1.5"},{"c":10,"r":28,"DF":"≥1.5"},{"c":11,"r":28,"DF":"≥1.5"},{"c":12,"r":28,"DF":"≥1.5"},{"c":13,"r":28,"DF":"≥1.5"},{"c":14,"r":28,"DF":"≥1.5"},{"c":15,"r":28,"DF":"≥1.0"},{"c":16,"r":28,"DF":"≥1.0"},{"c":17,"r":28,"DF":"≥1.5"},{"c":18,"r":28,"DF":"≥1.5"},{"c":19,"r":28,"DF":"≥1.5"},{"c":20,"r":28,"DF":"≥1.5"},{"c":21,"r":28,"DF":"≥1.5"},{"c":22,"r":28,"DF":"≥1.5"},{"c":23,"r":28,"DF":"≥2.0"},{"c":24,"r":28,"DF":"≥2.0"},{"c":25,"r":28,"DF":"≥2.5"},{"c":26,"r":28,"DF":"≥2.5"},{"c":27,"r":28,"DF":"≥5.0"},{"c":28,"r":28,"DF":"≥7.5"},{"c":29,"r":28,"DF":"≥10"},
{"c":0,"r":29,"DF":"≥7.5"},{"c":1,"r":29,"DF":"≥7.5"},{"c":2,"r":29,"DF":"≥5.0"},{"c":3,"r":29,"DF":"≥2.5"},{"c":4,"r":29,"DF":"≥2.5"},{"c":5,"r":29,"DF":"≥2.5"},{"c":6,"r":29,"DF":"≥2.5"},{"c":7,"r":29,"DF":"≥2.0"},{"c":8,"r":29,"DF":"≥2.0"},{"c":9,"r":29,"DF":"≥1.5"},{"c":10,"r":29,"DF":"≥1.5"},{"c":11,"r":29,"DF":"≥1.5"},{"c":12,"r":29,"DF":"≥1.5"},{"c":13,"r":29,"DF":"≥1.5"},{"c":14,"r":29,"DF":"≥1.5"},{"c":15,"r":29,"DF":"≥1.0"},{"c":16,"r":29,"DF":"≥1.0"},{"c":17,"r":29,"DF":"≥1.0"},{"c":18,"r":29,"DF":"≥1.0"},{"c":19,"r":29,"DF":"≥1.5"},{"c":20,"r":29,"DF":"≥1.5"},{"c":21,"r":29,"DF":"≥1.5"},{"c":22,"r":29,"DF":"≥1.5"},{"c":23,"r":29,"DF":"≥2.0"},{"c":24,"r":29,"DF":"≥2.0"},{"c":25,"r":29,"DF":"≥2.5"},{"c":26,"r":29,"DF":"≥2.5"},{"c":27,"r":29,"DF":"≥2.5"},{"c":28,"r":29,"DF":"≥7.5"},{"c":29,"r":29,"DF":"≥10"}
]},
"mark":{"type":"rect","stroke":"#8f8f8f","strokeWidth":2},
"encoding":{
"x":{"field":"c","type":"ordinal","axis":null,"scale":{"paddingInner":0,"paddingOuter":0}},
"y":{"field":"r","type":"ordinal","axis":null,"scale":{"paddingInner":0,"paddingOuter":0}},
"color":{"field":"DF","type":"nominal",
"scale":{"domain":["≥10","≥7.5","≥5.0","≥2.5","≥2.0","≥1.5","≥1.0","≥0.7","<0.7"],"range":["#ffffff","#e0fdfd","#c2fcfc","#8afafa","#0ae2ee","#1f88b5","#186490","#0a3b60","#041a33"]},
"legend":{"orient":"none","legendX":830,"legendY":-10,"title":"DF","titleFont":"Noto Sans","titleFontSize":12,"titleFontWeight":"bold","titleColor":"#2e4a62","titlePadding":5,"titleAnchor":"middle","padding":4,"fillColor":"#acd2ee","symbolType":"M-0.72,-1H0.72V1H-0.72Z","symbolSize":1296,"symbolStrokeWidth":0,"symbolOpacity":1,"symbolOffset":7,"labelFont":"Noto Sans","labelFontSize":12,"labelColor":"#333333","labelOffset":-2,"rowPadding":0}}
}},
{"data":{"values":[{"x":0},{"x":6.56},{"x":23.44},{"x":30}]},
"mark":{"type":"rule","color":"black","strokeWidth":3},
"encoding":{"x":{"field":"x","type":"quantitative","scale":{"domain":[0,30],"nice":false,"zero":false},"axis":null}}},
{"data":{"values":[{"x":0,"x2":6.56},{"x":23.44,"x2":30}]},
"mark":{"type":"rule","color":"black","strokeWidth":3},
"encoding":{"x":{"field":"x","type":"quantitative","scale":{"domain":[0,30],"nice":false,"zero":false},"axis":null},"x2":{"field":"x2"},
"y":{"datum":0,"type":"quantitative","scale":{"domain":[0,30],"reverse":true,"nice":false},"axis":null}}}
],
"resolve":{"scale":{"x":"independent","y":"independent"}}
}
